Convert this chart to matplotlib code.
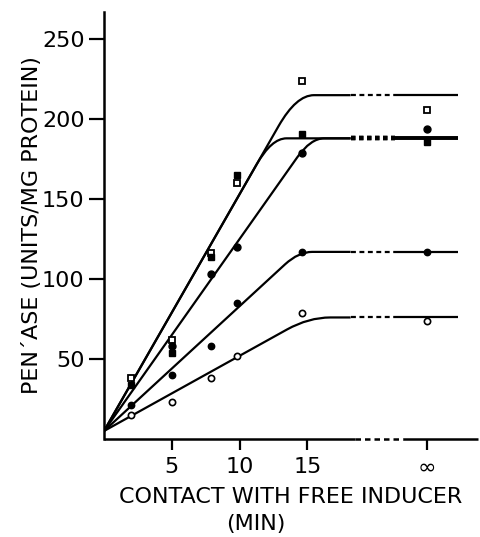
import numpy as np
import matplotlib.pyplot as plt
from matplotlib.path import Path
from matplotlib.patches import PathPatch

# x position used for the "infinity" column
X_INF = 23.8
BREAK_LO, BREAK_HI = 18.2, 21.5

# measured points (min, units/mg protein)
t = [2, 5, 7.9, 9.8, 14.6, X_INF]
open_sq = [38, 62, 116, 160, 224, 206]
fill_sq = [34, 54, 114, 165, 191, 186]
big_dot = [np.nan, 58, 103, 120, 179, 194]
small_dot = [21, 40, 58, 85, 117, 117]
open_dot = [15, 23, 38, 52, 79, 74]

# fitted curves: start value, slope, plateau, corner half-width
y_start = 5
slopes = [14.8, 14.8, 12.0, 7.8, 4.7]
plateaus = [215, 188, 188, 117, 76]
corners = [1.3, 1.1, 1.0, 1.0, 1.6]

rc = plt.rcParams
rc['font.family'] = 'DejaVu Sans'

fig = plt.figure(figsize=(4.8, 5.37), dpi=100)
ax = fig.add_axes([104/480, 98/537, 374/480, 427/537])
ax.set_xlim(0, 27.6)
ax.set_ylim(0, 267)

lw = 1.6
for s, p, k in zip(slopes, plateaus, corners):
    xk = (p - y_start)/s
    verts = [(0, y_start), (xk - k, y_start + s*(xk - k)), (xk, p),
             (xk + k, p), (BREAK_LO, p)]
    codes = [Path.MOVETO, Path.LINETO, Path.CURVE3, Path.CURVE3, Path.LINETO]
    ax.add_patch(PathPatch(Path(verts, codes), fill=False, lw=lw, color='k',
                           capstyle='butt'))
    if p == 188:
        ax.plot([BREAK_LO, BREAK_HI], [p, p], color='k', lw=3.2,
                linestyle=(0, (1, 0.8)))
        ax.plot([BREAK_HI, 26.1], [p, p], color='k', lw=2.6,
                solid_capstyle='butt')
    else:
        ax.plot([BREAK_LO, BREAK_HI], [p, p], color='k', lw=lw,
                linestyle=(0, (2.2, 1.6)))
        ax.plot([BREAK_HI, 26.1], [p, p], color='k', lw=lw,
                solid_capstyle='butt')

ms = 4.5
ax.plot(t, open_sq, 's', ms=ms, mfc='white', mec='k', mew=1.3, ls='none')
ax.plot(t, fill_sq, 's', ms=ms, color='k', ls='none')
ax.plot(t, big_dot, 'o', ms=5, color='k', ls='none')
ax.plot(t, small_dot, 'o', ms=4.6, color='k', ls='none')
ax.plot(t, open_dot, 'o', ms=4.5, mfc='white', mec='k', mew=1.2, ls='none')

# axes
for side in ['top', 'right', 'bottom']:
    ax.spines[side].set_visible(False)
ax.spines['left'].set_linewidth(1.8)
ax.plot([0, 18.5], [0, 0], color='k', lw=1.8, clip_on=False,
        solid_capstyle='butt')
ax.plot([18.5, 22.1], [0, 0], color='k', lw=1.8, clip_on=False,
        linestyle=(0, (2.2, 1.6)))
ax.plot([22.1, 27.6], [0, 0], color='k', lw=1.8, clip_on=False,
        solid_capstyle='butt')

ax.set_yticks([50, 100, 150, 200, 250])
ax.set_yticklabels(['50', '100', '150', '200', '250'])
ax.set_xticks([5, 10, 15, X_INF])
ax.set_xticklabels(['5', '10', '15', '\u221e'])
ax.tick_params(axis='both', direction='out', width=1.6, labelsize=16,
               color='k')
ax.tick_params(axis='y', length=11, pad=3)
ax.tick_params(axis='x', length=8, pad=5)

ax.set_ylabel('PEN\u00b4ASE (UNITS/MG PROTEIN)', fontsize=16)
ax.yaxis.set_label_coords(-0.165, 0.5)
fig.text(291/480, 1 - 497/537, 'CONTACT WITH FREE INDUCER', fontsize=16,
         ha='center', va='center')
fig.text(256/480, 1 - 524/537, '(MIN)', fontsize=16, ha='center',
         va='center')

fig.savefig('out.png', dpi=100)
